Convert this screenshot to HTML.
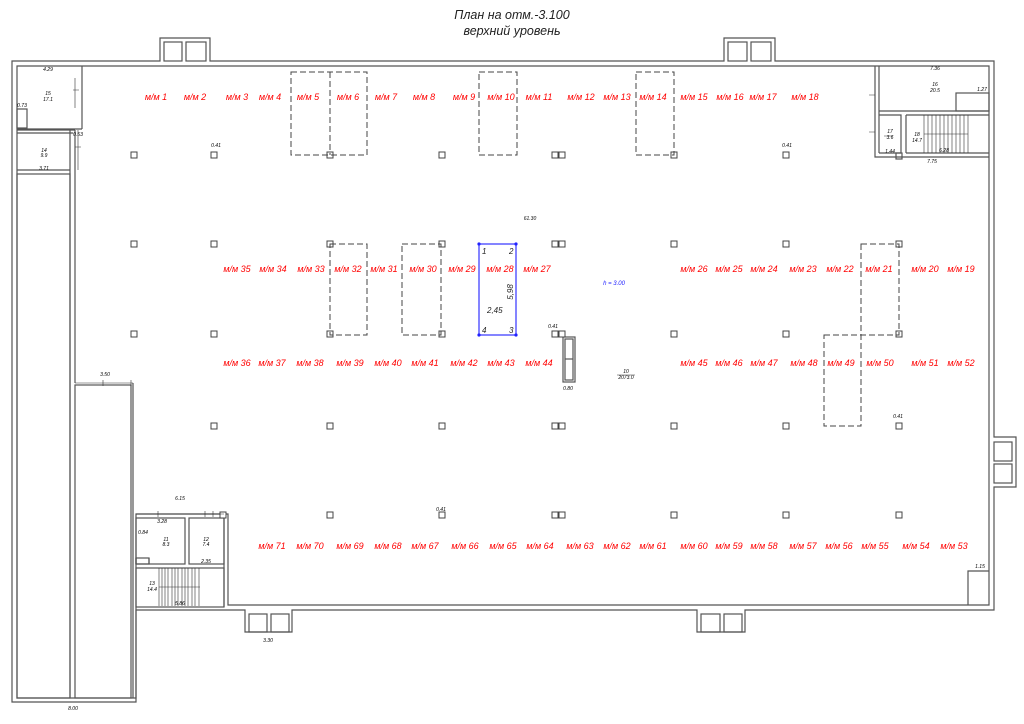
<!DOCTYPE html>
<html><head><meta charset="utf-8"><style>
html,body{margin:0;padding:0;background:#fff;}
svg{display:block;}
text{font-family:"Liberation Sans",sans-serif;font-style:italic;}
.r{fill:#f00;font-size:9px;text-anchor:middle;}
.d{fill:#000;font-size:5px;text-anchor:middle;}
</style></head><body>
<svg width="1024" height="724" viewBox="0 0 1024 724" xmlns="http://www.w3.org/2000/svg">
<rect width="1024" height="724" fill="#fff"/>
<text x="512" y="19" font-size="12.5" text-anchor="middle" fill="#222">План на отм.-3.100</text>
<text x="512" y="35" font-size="12.5" text-anchor="middle" fill="#222">верхний уровень</text>
<g fill="none" stroke="#555" stroke-width="1.2">
<path d="M12 61 H160 V38 H210 V61 H724 V38 H775 V61 H994 V437 H1016 V487 H994 V610 H745 V632 H697 V610 H292 V632 H245 V610 H136 V702 H12 Z"/>
<path d="M17 66 H989 V605 H228 V514 H136 V698 H17 Z"/>
<rect x="164" y="42" width="18" height="19"/><rect x="186" y="42" width="20" height="19"/>
<rect x="728" y="42" width="19" height="19"/><rect x="751" y="42" width="20" height="19"/>
<rect x="249" y="614" width="18" height="18"/><rect x="271" y="614" width="18" height="18"/>
<rect x="701" y="614" width="19" height="18"/><rect x="724" y="614" width="18" height="18"/>
<rect x="994" y="442" width="18" height="19"/><rect x="994" y="464" width="18" height="19"/>
<path d="M70 130 V698 M75 130 V383 M17 130 H75"/>
<path d="M82 66 V129 M17 129 H82 M17 133 H73 M17 170 H70"/>
<rect x="17" y="174" width="53" height="524"/>
<rect x="75" y="385" width="56" height="313"/>
<path d="M133 383 V698"/>
<rect x="17" y="109" width="10" height="19"/>
<rect x="136" y="518" width="49" height="46"/>
<rect x="189" y="518" width="35" height="46"/>
<rect x="136" y="568" width="88" height="39"/>
<rect x="136" y="558" width="13" height="6"/>
<path d="M136 558 V564 M149 558 V564 M224 514 V607"/>
<path d="M875 66 V157 H989 M879 66 V153 M879 111 H989 M879 115 H901 V153 M906 115 H989 M906 153 H989 M906 115 V153 M879 153 H901"/>
<rect x="956" y="93" width="33" height="18"/>
<rect x="896" y="153" width="6" height="6"/>
<path d="M968 605 V571 H989"/>
<rect x="563" y="337" width="12" height="45"/>
<rect x="565" y="339" width="8" height="41"/>
<path d="M565 359 H573"/>
</g>
<g stroke="#333" stroke-width="0.6">
<path d="M159 568 V606 M162 568 V606 M165 568 V606 M168 568 V606 M172 568 V606 M175 568 V606 M178 568 V606 M182 568 V606 M185 568 V606 M188 568 V606 M192 568 V606 M195 568 V606 M199 568 V606 M159 587 H200"/>
<path d="M924 115 V153 M928 115 V153 M932 115 V153 M936 115 V153 M940 115 V153 M944 115 V153 M948 115 V153 M952 115 V153 M956 115 V153 M960 115 V153 M964 115 V153 M968 115 V153 M924 134 H968"/>
</g>
<g fill="#fff" stroke="#444" stroke-width="1">
<rect x="131" y="152" width="6" height="6"/><rect x="211" y="152" width="6" height="6"/><rect x="327" y="152" width="6" height="6"/><rect x="439" y="152" width="6" height="6"/><rect x="552" y="152" width="6" height="6"/><rect x="559" y="152" width="6" height="6"/><rect x="671" y="152" width="6" height="6"/><rect x="783" y="152" width="6" height="6"/>
<rect x="131" y="241" width="6" height="6"/><rect x="211" y="241" width="6" height="6"/><rect x="327" y="241" width="6" height="6"/><rect x="439" y="241" width="6" height="6"/><rect x="552" y="241" width="6" height="6"/><rect x="559" y="241" width="6" height="6"/><rect x="671" y="241" width="6" height="6"/><rect x="783" y="241" width="6" height="6"/><rect x="896" y="241" width="6" height="6"/>
<rect x="131" y="331" width="6" height="6"/><rect x="211" y="331" width="6" height="6"/><rect x="327" y="331" width="6" height="6"/><rect x="439" y="331" width="6" height="6"/><rect x="552" y="331" width="6" height="6"/><rect x="559" y="331" width="6" height="6"/><rect x="671" y="331" width="6" height="6"/><rect x="783" y="331" width="6" height="6"/><rect x="896" y="331" width="6" height="6"/>
<rect x="211" y="423" width="6" height="6"/><rect x="327" y="423" width="6" height="6"/><rect x="439" y="423" width="6" height="6"/><rect x="552" y="423" width="6" height="6"/><rect x="559" y="423" width="6" height="6"/><rect x="671" y="423" width="6" height="6"/><rect x="783" y="423" width="6" height="6"/><rect x="896" y="423" width="6" height="6"/>
<rect x="220" y="512" width="6" height="6"/><rect x="327" y="512" width="6" height="6"/><rect x="439" y="512" width="6" height="6"/><rect x="552" y="512" width="6" height="6"/><rect x="559" y="512" width="6" height="6"/><rect x="671" y="512" width="6" height="6"/><rect x="783" y="512" width="6" height="6"/><rect x="896" y="512" width="6" height="6"/>
</g>
<g fill="none" stroke="#444" stroke-width="1" stroke-dasharray="6,3">
<rect x="291" y="72" width="76" height="83"/><path d="M330 72 V155"/>
<rect x="479" y="72" width="38" height="83"/>
<rect x="636" y="72" width="38" height="83"/>
<rect x="330" y="244" width="37" height="91"/>
<rect x="402" y="244" width="39" height="91"/>
<rect x="861" y="244" width="38" height="91"/>
<rect x="824" y="335" width="37" height="91"/>
</g>
<rect x="479" y="244" width="37" height="91" fill="none" stroke="#33f" stroke-width="1.2"/>
<g fill="#22f"><circle cx="479" cy="244" r="1.6"/><circle cx="516" cy="244" r="1.6"/><circle cx="479" cy="335" r="1.6"/><circle cx="516" cy="335" r="1.6"/></g>
<g font-size="8" fill="#222">
<text x="482" y="254">1</text><text x="509" y="254">2</text><text x="509" y="333">3</text><text x="482" y="333">4</text>
<text x="487" y="313">2,45</text>
<text x="513" y="292" transform="rotate(-90 513 292)" text-anchor="middle">5,98</text>
</g>
<text x="614" y="285" font-size="6" fill="#22f" text-anchor="middle">h = 3.00</text>
<g class="r">
<text x="156" y="100">м/м 1</text><text x="195" y="100">м/м 2</text><text x="237" y="100">м/м 3</text><text x="270" y="100">м/м 4</text><text x="308" y="100">м/м 5</text><text x="348" y="100">м/м 6</text><text x="386" y="100">м/м 7</text><text x="424" y="100">м/м 8</text><text x="464" y="100">м/м 9</text><text x="501" y="100">м/м 10</text><text x="539" y="100">м/м 11</text><text x="581" y="100">м/м 12</text><text x="617" y="100">м/м 13</text><text x="653" y="100">м/м 14</text><text x="694" y="100">м/м 15</text><text x="730" y="100">м/м 16</text><text x="763" y="100">м/м 17</text><text x="805" y="100">м/м 18</text>
<text x="237" y="272">м/м 35</text><text x="273" y="272">м/м 34</text><text x="311" y="272">м/м 33</text><text x="348" y="272">м/м 32</text><text x="384" y="272">м/м 31</text><text x="423" y="272">м/м 30</text><text x="462" y="272">м/м 29</text><text x="500" y="272">м/м 28</text><text x="537" y="272">м/м 27</text><text x="694" y="272">м/м 26</text><text x="729" y="272">м/м 25</text><text x="764" y="272">м/м 24</text><text x="803" y="272">м/м 23</text><text x="840" y="272">м/м 22</text><text x="879" y="272">м/м 21</text><text x="925" y="272">м/м 20</text><text x="961" y="272">м/м 19</text>
<text x="237" y="366">м/м 36</text><text x="272" y="366">м/м 37</text><text x="310" y="366">м/м 38</text><text x="350" y="366">м/м 39</text><text x="388" y="366">м/м 40</text><text x="425" y="366">м/м 41</text><text x="464" y="366">м/м 42</text><text x="501" y="366">м/м 43</text><text x="539" y="366">м/м 44</text><text x="694" y="366">м/м 45</text><text x="729" y="366">м/м 46</text><text x="764" y="366">м/м 47</text><text x="804" y="366">м/м 48</text><text x="841" y="366">м/м 49</text><text x="880" y="366">м/м 50</text><text x="925" y="366">м/м 51</text><text x="961" y="366">м/м 52</text>
<text x="272" y="549">м/м 71</text><text x="310" y="549">м/м 70</text><text x="350" y="549">м/м 69</text><text x="388" y="549">м/м 68</text><text x="425" y="549">м/м 67</text><text x="465" y="549">м/м 66</text><text x="503" y="549">м/м 65</text><text x="540" y="549">м/м 64</text><text x="580" y="549">м/м 63</text><text x="617" y="549">м/м 62</text><text x="653" y="549">м/м 61</text><text x="694" y="549">м/м 60</text><text x="729" y="549">м/м 59</text><text x="764" y="549">м/м 58</text><text x="803" y="549">м/м 57</text><text x="839" y="549">м/м 56</text><text x="875" y="549">м/м 55</text><text x="916" y="549">м/м 54</text><text x="954" y="549">м/м 53</text>
</g>
<g class="d">
<text x="48" y="71">4.29</text><text x="48" y="95">15</text><text x="48" y="101">17.1</text>
<text x="22" y="107">0.73</text><text x="78" y="136">0.53</text><text x="44" y="152">14</text><text x="44" y="157">9.9</text><text x="44" y="170">3.71</text>
<text x="216" y="147">0.41</text><text x="530" y="220">61.30</text><text x="787" y="147">0.41</text>
<text x="105" y="376">3.50</text><text x="180" y="500">6.15</text><text x="162" y="523">3.28</text>
<text x="143" y="534">0.84</text><text x="166" y="541">11</text><text x="166" y="546">8.3</text>
<text x="206" y="541">12</text><text x="206" y="546">7.4</text><text x="206" y="563">2.35</text>
<text x="152" y="585">13</text><text x="152" y="591">14.4</text><text x="180" y="605">5.86</text>
<text x="268" y="642">3.30</text><text x="73" y="710">8.00</text>
<text x="935" y="70">7.36</text><text x="935" y="86">16</text><text x="935" y="92">20.5</text><text x="982" y="91">1.27</text>
<text x="890" y="133">17</text><text x="890" y="139">3.6</text><text x="917" y="136">18</text><text x="917" y="142">14.7</text>
<text x="890" y="153">1.44</text><text x="932" y="163">7.75</text><text x="944" y="152">6.28</text>
<text x="553" y="328">0.41</text><text x="568" y="390">0.80</text><text x="626" y="373">10</text><text x="626" y="379">2073.0</text>
<text x="898" y="418">0.41</text><text x="441" y="511">0.41</text><text x="980" y="568">1.15</text>
</g>
<g fill="none" stroke="#333" stroke-width="0.6">
<path d="M75 383 H133 M103 380 V386 M131 380 V386 M136 514 H224 M158 511 V517 M205 511 V517 M213 511 V517"/>
<path d="M78 130 V170 M75 147 H81 M73 90 H79 M75 78 V108"/>
<path d="M869 95 H875 M869 132 H875 M884 136 H893"/>
<line x1="617" y1="375" x2="635" y2="375"/>
</g>
</svg>
</body></html>
